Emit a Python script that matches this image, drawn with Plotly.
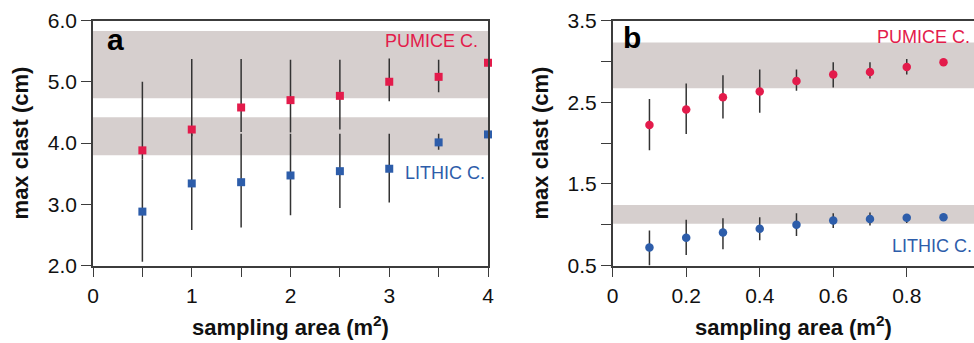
import plotly.graph_objects as go

# ---------------- data ----------------
area_a = [0.5, 1.0, 1.5, 2.0, 2.5, 3.0, 3.5, 4.0]
pumice_a = [3.88, 4.22, 4.58, 4.70, 4.77, 5.00, 5.08, 5.31]
pumice_a_hi = [5.00, 5.37, 5.37, 5.36, 5.36, 5.38, 5.36, 5.31]
pumice_a_lo = [3.73, 4.11, 4.18, 4.17, 4.22, 4.68, 4.83, 5.31]
lithic_a = [2.88, 3.34, 3.36, 3.47, 3.54, 3.58, 4.01, 4.14]
lithic_a_hi = [3.73, 4.15, 4.15, 4.15, 4.15, 4.15, 4.15, 4.14]
lithic_a_lo = [2.06, 2.58, 2.62, 2.82, 2.94, 3.03, 3.89, 4.14]

area_b = [0.1, 0.2, 0.3, 0.4, 0.5, 0.6, 0.7, 0.8, 0.9]
pumice_b = [2.22, 2.41, 2.56, 2.63, 2.76, 2.84, 2.87, 2.93, 2.99]
pumice_b_hi = [2.54, 2.73, 2.83, 2.90, 2.90, 2.99, 2.99, 3.03, 2.99]
pumice_b_lo = [1.91, 2.11, 2.30, 2.37, 2.64, 2.68, 2.79, 2.84, 2.99]
lithic_b = [0.72, 0.84, 0.905, 0.95, 1.00, 1.05, 1.07, 1.085, 1.09]
lithic_b_hi = [0.93, 1.06, 1.08, 1.09, 1.14, 1.14, 1.15, 1.12, 1.10]
lithic_b_lo = [0.50, 0.63, 0.70, 0.81, 0.86, 0.96, 0.99, 1.02, 1.08]

band_a_pumice = [4.73, 5.83]
band_a_lithic = [3.80, 4.42]
band_b_pumice = [2.67, 3.23]
band_b_lithic = [1.01, 1.24]

xticks_a = [0, 1, 2, 3, 4]
xtext_a = ["0", "1", "2", "3", "4"]
yticks_a = [2, 3, 4, 5, 6]
ytext_a = ["2.0", "3.0", "4.0", "5.0", "6.0"]
xticks_b = [0, 0.2, 0.4, 0.6, 0.8]
xtext_b = ["0", "0.2", "0.4", "0.6", "0.8"]
yticks_b = [0.5, 1.5, 2.5, 3.5]
ytext_b = ["0.5", "1.5", "2.5", "3.5"]

RED = "#E31B4B"
BLUE = "#2D5DAA"
BAND = "#D6CFCE"
AX = "#3c3c3c"
FONT = "Liberation Sans, Arial, sans-serif"


def err(vals, hi, lo):
    return (dict(type="data", symmetric=False,
                 array=[h - v for h, v in zip(hi, vals)],
                 arrayminus=[v - l for v, l in zip(vals, lo)],
                 width=0, thickness=1.5, color="#333333"))


fig = go.Figure()

fig.add_trace(go.Scatter(x=area_a, y=pumice_a, mode="markers", xaxis="x", yaxis="y",
                         marker=dict(symbol="square", size=8, color=RED),
                         error_y=err(pumice_a, pumice_a_hi, pumice_a_lo),
                         name="PUMICE C.", showlegend=False, cliponaxis=False))
fig.add_trace(go.Scatter(x=area_a, y=lithic_a, mode="markers", xaxis="x", yaxis="y",
                         marker=dict(symbol="square", size=8, color=BLUE),
                         error_y=err(lithic_a, lithic_a_hi, lithic_a_lo),
                         name="LITHIC C.", showlegend=False, cliponaxis=False))
fig.add_trace(go.Scatter(x=area_b, y=pumice_b, mode="markers", xaxis="x2", yaxis="y2",
                         marker=dict(symbol="circle", size=8.5, color=RED),
                         error_y=err(pumice_b, pumice_b_hi, pumice_b_lo),
                         name="PUMICE C.", showlegend=False))
fig.add_trace(go.Scatter(x=area_b, y=lithic_b, mode="markers", xaxis="x2", yaxis="y2",
                         marker=dict(symbol="circle", size=8.5, color=BLUE),
                         error_y=err(lithic_b, lithic_b_hi, lithic_b_lo),
                         name="LITHIC C.", showlegend=False))

shapes = []
for xr, yr, band in [("x domain", "y", band_a_pumice), ("x domain", "y", band_a_lithic),
                     ("x2 domain", "y2", band_b_pumice), ("x2 domain", "y2", band_b_lithic)]:
    shapes.append(dict(type="rect", xref=xr, yref=yr, x0=0, x1=1, y0=band[0], y1=band[1],
                       fillcolor=BAND, line=dict(width=0), layer="below"))

W, H = 974, 343
ytop, ybot = 20.5, 265.5
ydom = [1 - ybot / H, 1 - ytop / H]

axis_common = dict(showline=True, linecolor=AX, linewidth=1.6, ticks="outside",
                   ticklen=10, tickwidth=1.4, tickcolor=AX, showgrid=False, zeroline=False,
                   tickfont=dict(family=FONT, size=21, color="#111"),
                   tickmode="array", automargin=False)
minor_common = dict(ticks="outside", ticklen=10, tickwidth=1.4, tickcolor=AX, showgrid=False)
title_font = dict(family=FONT, size=22, color="#111", weight="bold")

fig.update_layout(
    width=W, height=H, margin=dict(l=0, r=0, t=0, b=0, autoexpand=False),
    paper_bgcolor="white", plot_bgcolor="white",
    font=dict(family=FONT),
    xaxis=dict(domain=[93 / W, 488 / W], range=[0, 4], anchor="y", mirror=True,
               tickvals=xticks_a, ticktext=xtext_a,
               minor=dict(dtick=0.5, tick0=0, **minor_common),
               title=dict(text="<b>sampling area (m<sup>2</sup>)</b>", font=title_font, standoff=14),
               **axis_common),
    yaxis=dict(domain=ydom, range=[2, 6], anchor="x", mirror=True,
               tickvals=yticks_a, ticktext=ytext_a,
               title=dict(text="<b>max clast (cm)</b>", font=title_font, standoff=13),
               **axis_common),
    xaxis2=dict(domain=[612.7 / W, 1.0], range=[0, 0.983], anchor="y2", mirror=True,
                tickvals=xticks_b, ticktext=xtext_b,
                title=dict(text="<b>sampling area (m<sup>2</sup>)</b>", font=title_font, standoff=14),
                **axis_common),
    yaxis2=dict(domain=ydom, range=[0.5, 3.5], anchor="x2", mirror=False,
                tickvals=yticks_b, ticktext=ytext_b,
                minor=dict(dtick=0.5, tick0=0.5, **minor_common),
                title=dict(text="<b>max clast (cm)</b>", font=title_font, standoff=13),
                **axis_common),
    shapes=shapes,
    annotations=[
        dict(text="<b>a</b>", xref="paper", yref="paper", x=105 / W, y=1 - 40 / H,
             xanchor="left", yanchor="middle", showarrow=False,
             font=dict(family=FONT, size=30, color="#000")),
        dict(text="PUMICE C.", xref="paper", yref="paper", x=480 / W, y=1 - 41 / H,
             xanchor="right", yanchor="middle", showarrow=False,
             font=dict(family=FONT, size=18, color=RED)),
        dict(text="LITHIC C.", xref="paper", yref="paper", x=403 / W, y=1 - 173 / H,
             xanchor="left", yanchor="middle", showarrow=False,
             font=dict(family=FONT, size=18, color=BLUE)),
        dict(text="<b>b</b>", xref="paper", yref="paper", x=621 / W, y=1 - 38 / H,
             xanchor="left", yanchor="middle", showarrow=False,
             font=dict(family=FONT, size=30, color="#000")),
        dict(text="PUMICE C.", xref="paper", yref="paper", x=972 / W, y=1 - 37 / H,
             xanchor="right", yanchor="middle", showarrow=False,
             font=dict(family=FONT, size=18, color=RED)),
        dict(text="LITHIC C.", xref="paper", yref="paper", x=890 / W, y=1 - 246 / H,
             xanchor="left", yanchor="middle", showarrow=False,
             font=dict(family=FONT, size=18, color=BLUE)),
    ],
)

fig.write_html("out.html")
